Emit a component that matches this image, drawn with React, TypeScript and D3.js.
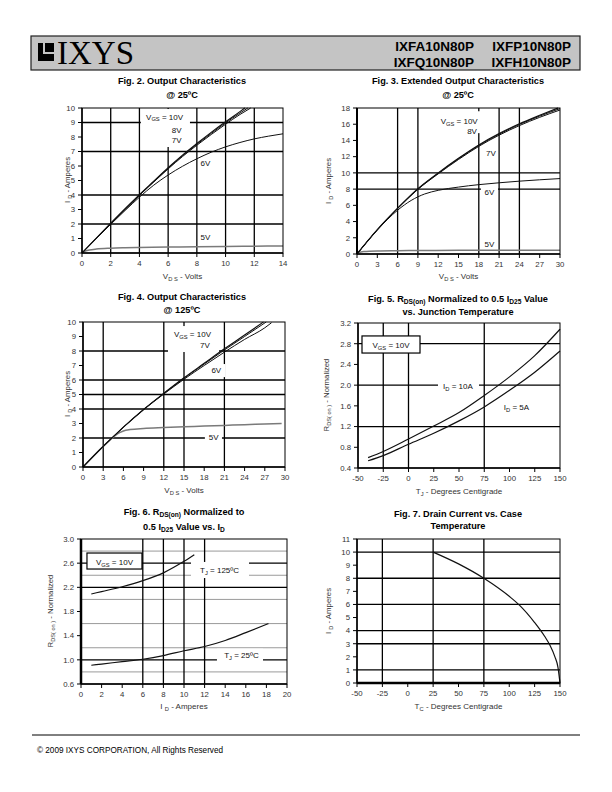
import React from 'react';
import * as d3 from 'd3';

type Pt = [number, number];
type Part = { t: string; sub?: boolean };

const FONT = "'Liberation Sans', Arial, Helvetica, sans-serif";

// ---------------- Header / footer text ----------------
const partNumbersRow1 = ['IXFA10N80P', 'IXFP10N80P'];
const partNumbersRow2 = ['IXFQ10N80P', 'IXFH10N80P'];
const footerText = '\u00A9 2009 IXYS CORPORATION, All Rights Reserved';

// ---------------- Fig. 2 ----------------
const fig2XTicks = [0, 2, 4, 6, 8, 10, 12, 14];
const fig2YTicks = [0, 1, 2, 3, 4, 5, 6, 7, 8, 9, 10];
const fig2Vgs10: Pt[] = [[0, 0], [1, 1.03], [2, 2.05], [3, 3.05], [4, 4.02], [5, 4.95], [6, 5.88], [7, 6.75], [8, 7.55], [9, 8.32], [10, 9.05], [11, 9.75], [11.35, 10]];
const fig2Vgs8: Pt[] = [[0, 0], [1, 1.02], [2, 2.04], [3, 3.03], [4, 4.0], [5, 4.93], [6, 5.85], [7, 6.71], [8, 7.5], [9, 8.25], [10, 8.97], [11, 9.65], [11.55, 10]];
const fig2Vgs7: Pt[] = [[0, 0], [1, 1.01], [2, 2.02], [3, 3.0], [4, 3.97], [5, 4.9], [6, 5.8], [7, 6.65], [8, 7.43], [9, 8.17], [10, 8.88], [11, 9.55], [11.75, 10]];
const fig2Vgs6: Pt[] = [[0, 0], [1, 1.0], [2, 1.98], [3, 2.93], [4, 3.85], [5, 4.68], [6, 5.38], [7, 5.98], [8, 6.5], [9, 6.95], [10, 7.32], [11, 7.62], [12, 7.87], [13, 8.06], [14, 8.22]];
const fig2Vgs5: Pt[] = [[0, 0.05], [0.5, 0.2], [1, 0.27], [2, 0.33], [3, 0.36], [4, 0.38], [6, 0.41], [8, 0.43], [10, 0.45], [12, 0.47], [14, 0.48]];

// ---------------- Fig. 3 ----------------
const fig3XTicks = [0, 3, 6, 9, 12, 15, 18, 21, 24, 27, 30];
const fig3YTicks = [0, 2, 4, 6, 8, 10, 12, 14, 16, 18];
const fig3Vgs10: Pt[] = [[0, 0], [3, 3.0], [6, 5.65], [9, 8.05], [12, 10.0], [15, 11.8], [18, 13.45], [21, 14.85], [24, 16.05], [27, 17.1], [29.7, 18]];
const fig3Vgs8: Pt[] = [[0, 0], [3, 3.0], [6, 5.63], [9, 8.02], [12, 9.95], [15, 11.75], [18, 13.38], [21, 14.77], [24, 15.97], [27, 17.0], [30, 17.92]];
const fig3Vgs7: Pt[] = [[0, 0], [3, 2.98], [6, 5.6], [9, 7.97], [12, 9.88], [15, 11.65], [18, 13.27], [21, 14.65], [24, 15.83], [27, 16.85], [30, 17.75]];
const fig3Vgs6: Pt[] = [[0, 0], [3, 2.95], [6, 5.4], [8, 6.6], [9, 7.05], [10, 7.4], [12, 7.85], [15, 8.25], [18, 8.55], [21, 8.78], [24, 8.98], [27, 9.15], [30, 9.3]];
const fig3Vgs5: Pt[] = [[0, 0.12], [1, 0.3], [3, 0.38], [6, 0.41], [9, 0.43], [15, 0.45], [21, 0.46], [30, 0.47]];

// ---------------- Fig. 4 ----------------
const fig4XTicks = [0, 3, 6, 9, 12, 15, 18, 21, 24, 27, 30];
const fig4YTicks = [0, 1, 2, 3, 4, 5, 6, 7, 8, 9, 10];
const fig4Vgs10: Pt[] = [[0, 0], [3, 1.42], [6, 2.75], [9, 3.97], [12, 5.08], [15, 6.15], [18, 7.15], [21, 8.15], [24, 9.1], [26.8, 10]];
const fig4Vgs7: Pt[] = [[0, 0], [3, 1.42], [6, 2.75], [9, 3.97], [12, 5.07], [15, 6.12], [18, 7.1], [21, 8.07], [24, 9.0], [27.2, 10]];
const fig4Vgs6: Pt[] = [[0, 0], [3, 1.42], [6, 2.74], [9, 3.95], [12, 5.03], [15, 6.05], [18, 7.0], [21, 7.92], [24, 8.8], [27, 9.6], [28, 9.95]];
const fig4Vgs5: Pt[] = [[0, 0], [3, 1.42], [4, 1.85], [4.5, 2.05], [5, 2.25], [6, 2.48], [7, 2.58], [9, 2.66], [12, 2.72], [15, 2.77], [18, 2.82], [21, 2.87], [24, 2.92], [27, 2.96], [29.5, 3.0]];

// ---------------- Fig. 5 ----------------
const fig5XTicks = [-50, -25, 0, 25, 50, 75, 100, 125, 150];
const fig5YTicks = [0.4, 0.8, 1.2, 1.6, 2.0, 2.4, 2.8, 3.2];
const fig5Id10: Pt[] = [[-40, 0.6], [-25, 0.72], [0, 0.96], [25, 1.21], [50, 1.47], [75, 1.8], [100, 2.16], [125, 2.57], [150, 3.08]];
const fig5Id5: Pt[] = [[-40, 0.54], [-25, 0.64], [0, 0.86], [25, 1.07], [50, 1.31], [75, 1.58], [100, 1.9], [125, 2.25], [150, 2.66]];

// ---------------- Fig. 6 ----------------
const fig6XTicks = [0, 2, 4, 6, 8, 10, 12, 14, 16, 18, 20];
const fig6YTicks = [0.6, 1.0, 1.4, 1.8, 2.2, 2.6, 3.0];
const fig6Tj125: Pt[] = [[1, 2.09], [2, 2.13], [4, 2.21], [6, 2.31], [8, 2.44], [10, 2.63], [11, 2.74]];
const fig6Tj25: Pt[] = [[1, 0.91], [2, 0.93], [4, 0.97], [6, 1.01], [8, 1.07], [10, 1.15], [12, 1.22], [14, 1.32], [16, 1.45], [18.2, 1.6]];

// ---------------- Fig. 7 ----------------
const fig7XTicks = [-50, -25, 0, 25, 50, 75, 100, 125, 150];
const fig7YTicks = [0, 1, 2, 3, 4, 5, 6, 7, 8, 9, 10, 11];
const fig7Id: Pt[] = [[25, 10], [50, 9.1], [75, 8.0], [100, 6.62], [110, 5.95], [125, 4.62], [135, 3.55], [140, 2.9], [145, 2.0], [148, 1.2], [150, 0]];

// ---------------- chart definitions ----------------
interface SeriesDef { pts: Pt[]; color: string; w: number }
interface Ann { parts: Part[]; x: number; y: number }
interface Rect { x0: number; x1: number; y0: number; y1: number }
interface ChartDef {
  px: [number, number, number, number];
  xDomain: [number, number];
  yDomain: [number, number];
  xTicks: number[];
  yTicks: number[];
  yFmt: (v: number) => string;
  vGrid: number[];
  hGrid: number[];
  hGray: number[];
  series: SeriesDef[];
  anns: Ann[];
  masks: Rect[];
  boxes: Rect[];
  title: Part[][];
  titleX: number;
  titleY: number[];
  xTitle: Part[];
  xTitleY: number;
  yTitle: Part[];
  yTitleX: number;
  yTitleY: number;
  leftW: number;
  bottomW: number;
}

const intFmt = (v: number) => String(v);
const oneDec = (v: number) => v.toFixed(1);
const BLK = '#111';
const GRY = '#7a7a7a';

const VGS10: Part[] = [{ t: 'V' }, { t: 'GS', sub: true }, { t: ' = 10V' }];
const IDAmp: Part[] = [{ t: 'I ' }, { t: 'D', sub: true }, { t: ' - Amperes' }];
const VdsVolts: Part[] = [{ t: 'V' }, { t: 'D S', sub: true }, { t: ' - Volts' }];
const RdsNorm: Part[] = [{ t: 'R' }, { t: 'DS( on )', sub: true }, { t: ' - Normalized' }];

const charts: ChartDef[] = [
  {
    px: [82, 108, 283, 253], xDomain: [0, 14], yDomain: [0, 10],
    xTicks: fig2XTicks, yTicks: fig2YTicks, yFmt: intFmt,
    vGrid: [2, 4, 6, 8, 10, 12], hGrid: [2, 4, 7, 9], hGray: [],
    series: [
      { pts: fig2Vgs5, color: GRY, w: 1.5 },
      { pts: fig2Vgs6, color: BLK, w: 1 },
      { pts: fig2Vgs7, color: BLK, w: 1 },
      { pts: fig2Vgs8, color: BLK, w: 1 },
      { pts: fig2Vgs10, color: BLK, w: 1.2 },
    ],
    anns: [
      { parts: VGS10, x: 5.75, y: 9.2 },
      { parts: [{ t: '8V' }], x: 6.6, y: 8.28 },
      { parts: [{ t: '7V' }], x: 6.6, y: 7.59 },
      { parts: [{ t: '6V' }], x: 8.6, y: 6.0 },
      { parts: [{ t: '5V' }], x: 8.6, y: 0.9 },
    ],
    masks: [{ x0: 4.1, x1: 7.52, y0: 7.31, y1: 9.93 }],
    boxes: [],
    title: [[{ t: 'Fig. 2. Output Characteristics' }], [{ t: '@ 25\u00BAC' }]],
    titleX: 182, titleY: [84, 98],
    xTitle: VdsVolts, xTitleY: 279,
    yTitle: IDAmp, yTitleX: 67, yTitleY: 180,
    leftW: 1.5, bottomW: 1.5,
  },
  {
    px: [357, 108, 560, 254], xDomain: [0, 30], yDomain: [0, 18],
    xTicks: fig3XTicks, yTicks: fig3YTicks, yFmt: intFmt,
    vGrid: [6, 9, 18, 21, 24], hGrid: [8, 10], hGray: [],
    series: [
      { pts: fig3Vgs5, color: GRY, w: 1.5 },
      { pts: fig3Vgs6, color: BLK, w: 1 },
      { pts: fig3Vgs7, color: BLK, w: 1 },
      { pts: fig3Vgs8, color: BLK, w: 1 },
      { pts: fig3Vgs10, color: BLK, w: 1.2 },
    ],
    anns: [
      { parts: VGS10, x: 15.1, y: 16.03 },
      { parts: [{ t: '8V' }], x: 17.0, y: 14.8 },
      { parts: [{ t: '7V' }], x: 19.8, y: 12.08 },
      { parts: [{ t: '6V' }], x: 19.58, y: 7.27 },
      { parts: [{ t: '5V' }], x: 19.58, y: 0.86 },
    ],
    masks: [
      { x0: 11.2, x1: 18.6, y0: 14.9, y1: 17.6 },
      { x0: 18.32, x1: 20.84, y0: 6.9, y1: 8.38 },
      { x0: 18.32, x1: 20.84, y0: 0.6, y1: 1.97 },
    ],
    boxes: [],
    title: [[{ t: 'Fig. 3. Extended Output Characteristics' }], [{ t: '@ 25\u00BAC' }]],
    titleX: 458, titleY: [84, 98],
    xTitle: VdsVolts, xTitleY: 279,
    yTitle: IDAmp, yTitleX: 328, yTitleY: 181,
    leftW: 2, bottomW: 1.5,
  },
  {
    px: [83, 322, 285, 467], xDomain: [0, 30], yDomain: [0, 10],
    xTicks: fig4XTicks, yTicks: fig4YTicks, yFmt: intFmt,
    vGrid: [3, 12, 15, 21], hGrid: [2, 4, 5, 6, 8], hGray: [],
    series: [
      { pts: fig4Vgs5, color: GRY, w: 1.5 },
      { pts: fig4Vgs6, color: BLK, w: 1 },
      { pts: fig4Vgs7, color: BLK, w: 1 },
      { pts: fig4Vgs10, color: BLK, w: 1.2 },
    ],
    anns: [
      { parts: VGS10, x: 16.26, y: 8.97 },
      { parts: [{ t: '7V' }], x: 18.1, y: 8.2 },
      { parts: [{ t: '6V' }], x: 19.8, y: 6.48 },
      { parts: [{ t: '5V' }], x: 19.4, y: 1.86 },
    ],
    masks: [
      { x0: 12.62, x1: 20.2, y0: 7.93, y1: 9.72 },
      { x0: 18.7, x1: 21.1, y0: 6.2, y1: 7.1 },
      { x0: 18.1, x1: 20.64, y0: 1.52, y1: 2.48 },
    ],
    boxes: [],
    title: [[{ t: 'Fig. 4. Output Characteristics' }], [{ t: '@ 125\u00BAC' }]],
    titleX: 182, titleY: [300, 313],
    xTitle: VdsVolts, xTitleY: 493,
    yTitle: IDAmp, yTitleX: 67, yTitleY: 394,
    leftW: 1.5, bottomW: 1.5,
  },
  {
    px: [358, 323, 560, 468], xDomain: [-50, 150], yDomain: [0.4, 3.2],
    xTicks: fig5XTicks, yTicks: fig5YTicks, yFmt: oneDec,
    vGrid: [-25, 0, 75], hGrid: [1.2, 2.0, 2.8], hGray: [],
    series: [
      { pts: fig5Id10, color: BLK, w: 1.2 },
      { pts: fig5Id5, color: BLK, w: 1.2 },
    ],
    anns: [
      { parts: VGS10, x: -17.3, y: 2.72 },
      { parts: [{ t: 'I' }, { t: 'D', sub: true }, { t: ' = 10A' }], x: 49, y: 1.925 },
      { parts: [{ t: 'I' }, { t: 'D', sub: true }, { t: ' = 5A' }], x: 106.9, y: 1.52 },
    ],
    masks: [{ x0: 29.2, x1: 69.8, y0: 1.85, y1: 2.12 }],
    boxes: [{ x0: -46.04, x1: 11.39, y0: 2.62, y1: 2.95 }],
    title: [
      [{ t: 'Fig. 5. R' }, { t: 'DS(on)', sub: true }, { t: ' Normalized to 0.5 I' }, { t: 'D25', sub: true }, { t: ' Value' }],
      [{ t: 'vs. Junction Temperature' }],
    ],
    titleX: 458, titleY: [302, 315],
    xTitle: [{ t: 'T' }, { t: 'J', sub: true }, { t: ' - Degrees Centigrade' }], xTitleY: 494,
    yTitle: RdsNorm, yTitleX: 326, yTitleY: 395,
    leftW: 1.5, bottomW: 1.5,
  },
  {
    px: [81, 539, 287, 684], xDomain: [0, 20], yDomain: [0.6, 3.0],
    xTicks: fig6XTicks, yTicks: fig6YTicks, yFmt: oneDec,
    vGrid: [6, 8, 10, 12], hGrid: [1.0, 2.2, 2.6], hGray: [0.8, 1.2, 1.6, 2.0, 2.4, 2.8],
    series: [
      { pts: fig6Tj125, color: BLK, w: 1.2 },
      { pts: fig6Tj25, color: BLK, w: 1.2 },
    ],
    anns: [
      { parts: VGS10, x: 3.25, y: 2.57 },
      { parts: [{ t: 'T' }, { t: 'J', sub: true }, { t: ' = 125\u00BAC' }], x: 13.45, y: 2.437 },
      { parts: [{ t: 'T' }, { t: 'J', sub: true }, { t: ' = 25\u00BAC' }], x: 15.58, y: 1.03 },
    ],
    masks: [
      { x0: 10.68, x1: 16.31, y0: 2.354, y1: 2.62 },
      { x0: 13.2, x1: 17.67, y0: 0.95, y1: 1.185 },
    ],
    boxes: [{ x0: 0.58, x1: 5.92, y0: 2.503, y1: 2.768 }],
    title: [
      [{ t: 'Fig. 6. R' }, { t: 'DS(on)', sub: true }, { t: ' Normalized to' }],
      [{ t: '0.5 I' }, { t: 'D25', sub: true }, { t: ' Value vs. I' }, { t: 'D', sub: true }],
    ],
    titleX: 184, titleY: [515, 530],
    xTitle: [{ t: 'I ' }, { t: 'D', sub: true }, { t: ' - Amperes' }], xTitleY: 709,
    yTitle: RdsNorm, yTitleX: 50, yTitleY: 611,
    leftW: 2.5, bottomW: 1.5,
  },
  {
    px: [357, 539, 560, 683], xDomain: [-50, 150], yDomain: [0, 11],
    xTicks: fig7XTicks, yTicks: fig7YTicks, yFmt: intFmt,
    vGrid: [-25, 25, 75], hGrid: [1, 3, 4, 6, 8, 10], hGray: [],
    series: [{ pts: fig7Id, color: BLK, w: 1.2 }],
    anns: [],
    masks: [],
    boxes: [],
    title: [[{ t: 'Fig. 7. Drain Current vs. Case' }], [{ t: 'Temperature' }]],
    titleX: 458, titleY: [517, 529],
    xTitle: [{ t: 'T' }, { t: 'C', sub: true }, { t: ' - Degrees Centigrade' }], xTitleY: 709,
    yTitle: IDAmp, yTitleX: 328, yTitleY: 611,
    leftW: 1.5, bottomW: 2.5,
  },
];

function Txt({ parts, subDy = 2.2, ...rest }: { parts: Part[]; subDy?: number; [k: string]: any }) {
  return (
    <text {...rest} style={{ whiteSpace: 'pre' }}>
      {parts.map((p, i) => {
        const prevSub = i > 0 && !!parts[i - 1].sub;
        let dy = 0;
        if (p.sub && !prevSub) dy = subDy;
        else if (!p.sub && prevSub) dy = -subDy;
        return (
          <tspan key={i} dy={dy} fontSize={p.sub ? '0.72em' : undefined}>
            {p.t}
          </tspan>
        );
      })}
    </text>
  );
}

function Chart({ d }: { d: ChartDef }) {
  const [l, t, r, b] = d.px;
  const xs = d3.scaleLinear().domain(d.xDomain).range([l, r]);
  const ys = d3.scaleLinear().domain(d.yDomain).range([b, t]);
  const line = d3
    .line<Pt>()
    .x((p) => xs(p[0]))
    .y((p) => ys(p[1]))
    .curve(d3.curveMonotoneX);
  return (
    <g fontFamily={FONT}>
      {d.title.map((ln, i) => (
        <Txt key={i} parts={ln} x={d.titleX} y={d.titleY[i]} textAnchor="middle" fontSize={9.2} fontWeight="bold" fill="#000" subDy={2} />
      ))}
      {d.hGray.map((v) => (
        <line key={'hg' + v} x1={l} x2={r} y1={ys(v)} y2={ys(v)} stroke="#9a9a9a" strokeWidth={1} />
      ))}
      {d.hGrid.map((v) => (
        <line key={'h' + v} x1={l} x2={r} y1={ys(v)} y2={ys(v)} stroke="#000" strokeWidth={1.3} />
      ))}
      {d.vGrid.map((v) => (
        <line key={'v' + v} x1={xs(v)} x2={xs(v)} y1={t} y2={b} stroke="#000" strokeWidth={1.3} />
      ))}
      {d.masks.map((m, i) => (
        <rect key={'m' + i} x={xs(m.x0)} y={ys(m.y1)} width={xs(m.x1) - xs(m.x0)} height={ys(m.y0) - ys(m.y1)} fill="#fff" />
      ))}
      {d.series.map((s, i) => (
        <path key={'s' + i} d={line(s.pts) || ''} fill="none" stroke={s.color} strokeWidth={s.w} />
      ))}
      {d.boxes.map((m, i) => (
        <rect key={'b' + i} x={xs(m.x0)} y={ys(m.y1)} width={xs(m.x1) - xs(m.x0)} height={ys(m.y0) - ys(m.y1)} fill="#fff" stroke="#000" strokeWidth={1.2} />
      ))}
      {d.anns.map((a, i) => (
        <Txt key={'a' + i} parts={a.parts} x={xs(a.x)} y={ys(a.y)} textAnchor="middle" fontSize={8} fill="#111" subDy={1.8} />
      ))}
      <rect x={l} y={t} width={r - l} height={b - t} fill="none" stroke="#000" strokeWidth={1} />
      <line x1={l} x2={l} y1={t} y2={b} stroke="#000" strokeWidth={d.leftW} />
      <line x1={l} x2={r} y1={b} y2={b} stroke="#000" strokeWidth={d.bottomW} />
      {d.yTicks.map((v) => (
        <g key={'yt' + v}>
          <line x1={l - 4} x2={l} y1={ys(v)} y2={ys(v)} stroke="#000" strokeWidth={1} />
          <text x={l - 7} y={ys(v) + 2.8} textAnchor="end" fontSize={7.8} fill="#333">
            {d.yFmt(v)}
          </text>
        </g>
      ))}
      {d.xTicks.map((v) => (
        <g key={'xt' + v}>
          <line x1={xs(v)} x2={xs(v)} y1={b} y2={b + 4} stroke="#000" strokeWidth={1} />
          <text x={xs(v)} y={b + 13} textAnchor="middle" fontSize={7.8} fill="#333">
            {String(v)}
          </text>
        </g>
      ))}
      <Txt parts={d.xTitle} x={(l + r) / 2} y={d.xTitleY} textAnchor="middle" fontSize={8} fill="#333" subDy={1.8} />
      <Txt
        parts={d.yTitle}
        x={0}
        y={0}
        transform={`translate(${d.yTitleX + 3},${d.yTitleY}) rotate(-90)`}
        textAnchor="middle"
        fontSize={7.8}
        fill="#333"
        subDy={1.8}
      />
    </g>
  );
}

export default function App() {
  return (
    <svg width={612} height={792} style={{ position: 'absolute', left: 0, top: 0, background: '#fff' }}>
      <rect x={0} y={0} width={612} height={792} fill="#fff" />
      {/* header */}
      <rect x={31} y={36} width={549} height={34} fill="#c4c4c4" stroke="#222" strokeWidth={1.2} />
      <g>
        <rect x={38} y={43} width={16} height={18} fill="#000" />
        <rect x={43} y={43} width={2} height={11} fill="#c4c4c4" />
        <rect x={43} y={52} width={11} height={2} fill="#c4c4c4" />
        <rect x={47} y={45} width={5} height={5} fill="#000" />
      </g>
      <text x={57} y={64} fontFamily="'Liberation Serif', 'Times New Roman', serif" fontSize={33} fill="#000">
        IXYS
      </text>
      <g fontFamily={FONT} fontWeight="bold" fontSize={13.5} fill="#000" textAnchor="end">
        <text x={474} y={51}>{partNumbersRow1[0]}</text>
        <text x={571} y={51}>{partNumbersRow1[1]}</text>
        <text x={474} y={67}>{partNumbersRow2[0]}</text>
        <text x={571} y={67}>{partNumbersRow2[1]}</text>
      </g>
      {charts.map((c, i) => (
        <Chart key={i} d={c} />
      ))}
      {/* footer */}
      <line x1={32} x2={580} y1={735} y2={735} stroke="#000" strokeWidth={1} />
      <text x={37} y={753} fontFamily={FONT} fontSize={8.2} fill="#000">
        {footerText}
      </text>
    </svg>
  );
}
